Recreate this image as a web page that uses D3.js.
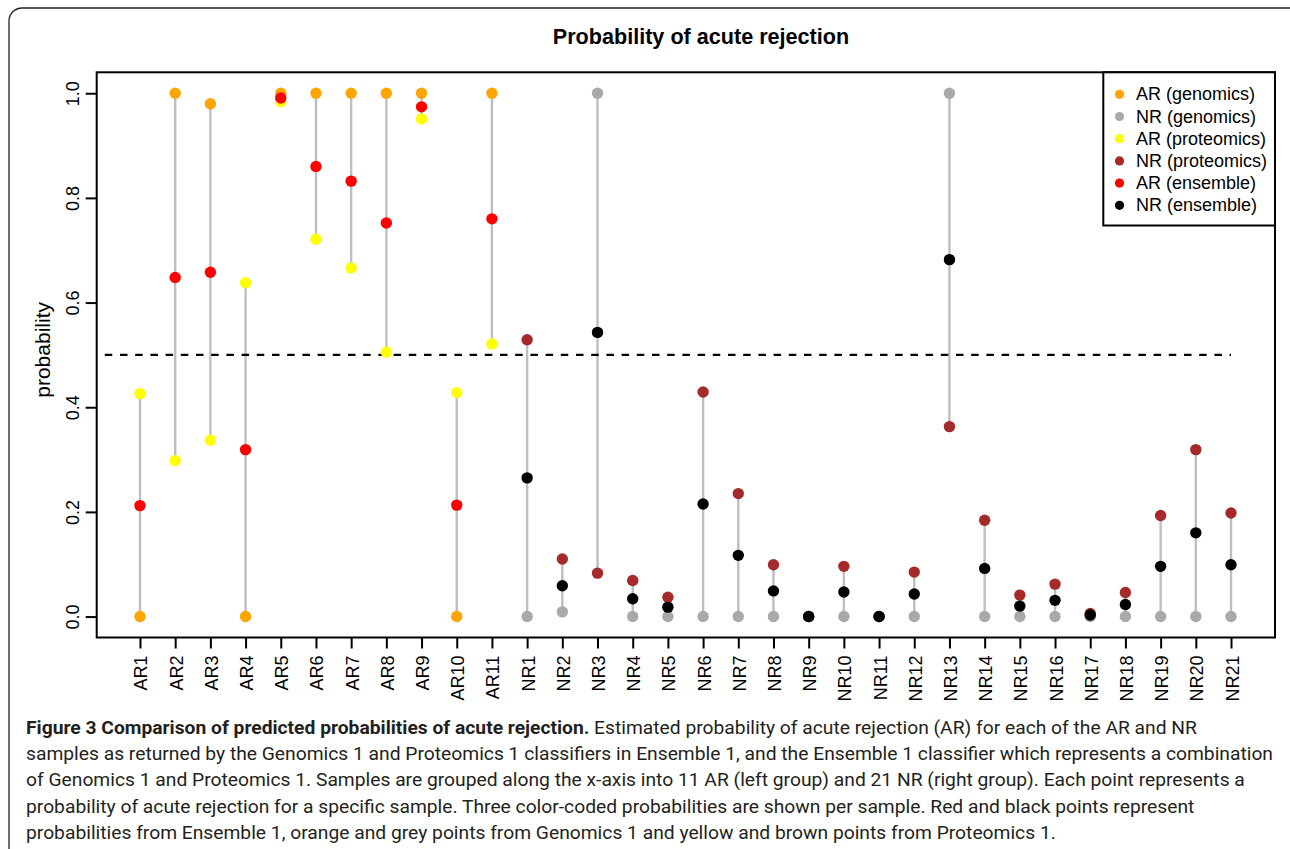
<!DOCTYPE html>
<html>
<head>
<meta charset="utf-8">
<script src="https://cdn.jsdelivr.net/npm/d3@7"></script>
<style>
  body { margin: 0; background: #fff; }
  svg { display: block; }
</style>
</head>
<body>
<div id="chart"></div>
<script>
// samples along the x axis
const samples = ["AR1","AR2","AR3","AR4","AR5","AR6","AR7","AR8","AR9","AR10","AR11",
  "NR1","NR2","NR3","NR4","NR5","NR6","NR7","NR8","NR9","NR10","NR11","NR12","NR13",
  "NR14","NR15","NR16","NR17","NR18","NR19","NR20","NR21"];

// probability of acute rejection per classifier
const genomics = [0, 1, 0.98, 0, 1, 1, 1, 1, 1, 0, 1,
  0, 0.009, 1, 0, 0, 0, 0, 0, 0, 0, 0, 0, 1, 0, 0, 0, 0, 0, 0, 0, 0];
const proteomics = [0.426, 0.298, 0.337, 0.638, 0.984, 0.721, 0.666, 0.505, 0.951, 0.428, 0.521,
  0.529, 0.110, 0.083, 0.069, 0.037, 0.429, 0.235, 0.099, 0, 0.096, 0, 0.085, 0.363,
  0.184, 0.041, 0.062, 0.006, 0.046, 0.193, 0.319, 0.198];
const ensemble = [0.212, 0.648, 0.658, 0.319, 0.991, 0.860, 0.832, 0.752, 0.974, 0.213, 0.760,
  0.265, 0.059, 0.543, 0.034, 0.018, 0.215, 0.117, 0.049, 0, 0.047, 0, 0.043, 0.682,
  0.092, 0.020, 0.031, 0.003, 0.023, 0.096, 0.160, 0.099];

const yTicks = [0, 0.2, 0.4, 0.6, 0.8, 1.0];
const threshold = 0.5;

const legendLabels = ["AR (genomics)", "NR (genomics)", "AR (proteomics)",
  "NR (proteomics)", "AR (ensemble)", "NR (ensemble)"];
const legendColors = ["orange", "darkgray", "yellow", "brown", "red", "black"];

const captionLines = [
  ["Figure 3 Comparison of predicted probabilities of acute rejection.", " Estimated probability of acute rejection (AR) for each of the AR and NR"],
  ["", "samples as returned by the Genomics 1 and Proteomics 1 classifiers in Ensemble 1, and the Ensemble 1 classifier which represents a combination"],
  ["", "of Genomics 1 and Proteomics 1. Samples are grouped along the x-axis into 11 AR (left group) and 21 NR (right group). Each point represents a"],
  ["", "probability of acute rejection for a specific sample. Three color-coded probabilities are shown per sample. Red and black points represent"],
  ["", "probabilities from Ensemble 1, orange and grey points from Genomics 1 and yellow and brown points from Proteomics 1."]
];

const W = 1290, H = 849;
const plot = {left: 96.7, right: 1275, top: 72.3, bottom: 637.5};

const svg = d3.select("#chart").append("svg")
    .attr("width", W)
    .attr("height", H)
    .style("font-family", "'Liberation Sans', Arial, Helvetica, sans-serif");

// outer figure frame
svg.append("rect")
    .attr("x", 9).attr("y", 8)
    .attr("width", 1300).attr("height", 900)
    .attr("rx", 13)
    .attr("fill", "none")
    .attr("stroke", "#222")
    .attr("stroke-width", 1.3);

const idx = samples.map((d, i) => i + 1);

const x = d3.scaleLinear()
    .domain([-0.23, 33.25])
    .range([plot.left, plot.right]);

const y = d3.scaleLinear()
    .domain([-0.04, 1.04])
    .range([plot.bottom, plot.top]);

// title
svg.append("text")
    .attr("x", 701).attr("y", 44)
    .attr("text-anchor", "middle")
    .style("font-weight", "bold")
    .style("font-size", "21.6px")
    .text("Probability of acute rejection");

// vertical grey segments
const rows = samples.map((s, i) => ({
  name: s, i: idx[i], ar: s.startsWith("AR"),
  g: genomics[i], p: proteomics[i], e: ensemble[i]
}));

svg.append("g")
  .selectAll("line")
  .data(rows)
  .join("line")
    .attr("x1", d => x(d.i)).attr("x2", d => x(d.i))
    .attr("y1", d => y(Math.min(d.g, d.p, d.e)))
    .attr("y2", d => y(Math.max(d.g, d.p, d.e)))
    .attr("stroke", "#bebebe")
    .attr("stroke-width", 2.4);

// threshold
svg.append("line")
    .attr("x1", x(0)).attr("x2", x(32))
    .attr("y1", y(threshold)).attr("y2", y(threshold))
    .attr("stroke", "#000")
    .attr("stroke-width", 2.2)
    .attr("stroke-dasharray", "7.5,7.7");

// points: genomics, proteomics, ensemble
const series = [
  {key: "g", ar: "orange", nr: "darkgray"},
  {key: "p", ar: "yellow", nr: "brown"},
  {key: "e", ar: "red", nr: "black"}
];

series.forEach(s => {
  svg.append("g")
    .selectAll("circle")
    .data(rows)
    .join("circle")
      .attr("cx", d => x(d.i))
      .attr("cy", d => y(d[s.key]))
      .attr("r", 5.7)
      .attr("fill", d => d.ar ? s.ar : s.nr);
});

// box
svg.append("rect")
    .attr("x", plot.left).attr("y", plot.top)
    .attr("width", plot.right - plot.left)
    .attr("height", plot.bottom - plot.top)
    .attr("fill", "none")
    .attr("stroke", "#000")
    .attr("stroke-width", 2);

// y axis
const yAxis = svg.append("g")
    .attr("transform", `translate(${plot.left},0)`)
    .call(d3.axisLeft(y).tickValues(yTicks).tickFormat(d3.format(".1f")).tickSize(11).tickPadding(0));
yAxis.select(".domain").remove();
yAxis.selectAll(".tick line").attr("stroke", "#000").attr("stroke-width", 2);
yAxis.selectAll(".tick text")
    .attr("x", null).attr("dy", null)
    .attr("transform", "translate(-24,0) rotate(-90)")
    .attr("text-anchor", "middle")
    .attr("dominant-baseline", "central")
    .style("font-size", "18px")
    .style("font-family", "'Liberation Sans', Arial, sans-serif")
    .attr("fill", "#000");

// x axis
const xAxis = svg.append("g")
    .attr("transform", `translate(0,${plot.bottom})`)
    .call(d3.axisBottom(x).tickValues(idx).tickFormat(d => samples[d - 1]).tickSize(11).tickPadding(0));
xAxis.select(".domain").remove();
xAxis.selectAll(".tick line").attr("stroke", "#000").attr("stroke-width", 2);
xAxis.selectAll(".tick text")
    .attr("y", null).attr("dy", null)
    .attr("transform", "translate(1,18) rotate(-90)")
    .attr("text-anchor", "end")
    .attr("dominant-baseline", "central")
    .style("font-size", "18px")
    .style("font-family", "'Liberation Sans', Arial, sans-serif")
    .attr("fill", "#000");

// y label
svg.append("text")
    .attr("transform", `translate(42,${(plot.top + plot.bottom) / 2 - 5}) rotate(-90)`)
    .attr("text-anchor", "middle")
    .attr("dominant-baseline", "central")
    .style("font-size", "21px")
    .text("probability");

// legend
const lg = svg.append("g");
lg.append("rect")
    .attr("x", 1103.3).attr("y", plot.top)
    .attr("width", plot.right - 1103.3).attr("height", 225.5 - plot.top)
    .attr("fill", "#fff")
    .attr("stroke", "#000")
    .attr("stroke-width", 2);
const items = lg.selectAll("g.item")
  .data(legendLabels)
  .join("g")
    .attr("class", "item")
    .attr("transform", (d, i) => `translate(0,${94.3 + i * 22.2})`);
items.append("circle")
    .attr("cx", 1119.5).attr("cy", 0).attr("r", 4.6)
    .attr("fill", (d, i) => legendColors[i]);
items.append("text")
    .attr("x", 1136).attr("y", 0)
    .attr("dominant-baseline", "central")
    .style("font-size", "18px")
    .text(d => d);

// caption - size picked so the longest line fills the frame width
const cap = svg.append("g")
    .style("font-family", "Roboto, 'Noto Sans', sans-serif")
    .style("font-size", "20px")
    .attr("fill", "#231f20");
const capTexts = captionLines.map((ln, i) => {
  const t = cap.append("text")
      .attr("x", 26)
      .attr("y", 734 + i * 26.2);
  if (ln[0]) t.append("tspan").style("font-weight", "bold").text(ln[0]);
  t.append("tspan").text(ln[1]);
  return t;
});
let natural = capTexts.map(t => t.node().getComputedTextLength());
const factor = (1273 - 26) / natural[1];
const capSize = Math.min(20, 20 * factor * 0.995);
cap.style("font-size", capSize + "px");
natural = capTexts.map(t => t.node().getComputedTextLength());
const f2 = (1273 - 26) / natural[1];
capTexts.forEach((t, i) => {
  t.attr("textLength", natural[i] * f2).attr("lengthAdjust", "spacingAndGlyphs");
});
</script>
</body>
</html>
